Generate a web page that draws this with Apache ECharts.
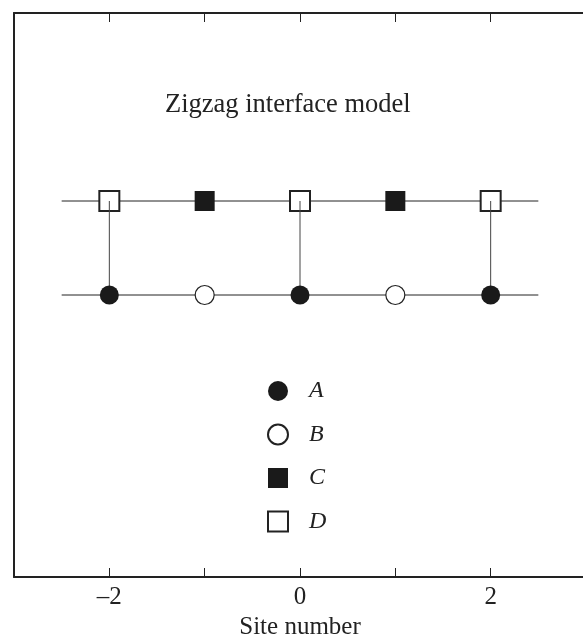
<!DOCTYPE html>
<html>
<head>
<meta charset="utf-8">
<script src="https://cdn.jsdelivr.net/npm/echarts@6/dist/echarts.min.js"></script>
<style>
  html, body { margin: 0; padding: 0; background: #fff; }
  #chart { width: 583px; height: 637px; }
</style>
</head>
<body>
<div id="chart"></div>
<script>
// site positions of each kind of atom
const sitesA = [-2, 0, 2];   // filled circles, lower chain
const sitesB = [-1, 1];      // open circles, lower chain
const sitesC = [-1, 1];      // filled squares, upper chain
const sitesD = [-2, 0, 2];   // open squares, upper chain
const bondSites = [-2, 0, 2];
const chainEnds = [-2.5, 2.5];
const upperRow = 4;
const lowerRow = 3;
const xTicks = [-2, 0, 2];

const font = "'Liberation Serif', 'Times New Roman', serif";
const ink = "#222";

let series = [
  {
    name: "upper", type: "line", z: 1, symbol: "none", silent: true,
    data: chainEnds.map(x => [x, upperRow]),
    lineStyle: { color: ink, width: 1 }
  },
  {
    name: "lower", type: "line", z: 1, symbol: "none", silent: true,
    data: chainEnds.map(x => [x, lowerRow]),
    lineStyle: { color: ink, width: 1 }
  },
  {
    name: "D", type: "scatter", z: 2, symbol: "rect", symbolSize: 20,
    data: sitesD.map(x => [x, upperRow]),
    itemStyle: { color: "#fff", borderColor: ink, borderWidth: 2, opacity: 1 }
  }
];

// vertical bonds between the two chains
bondSites.forEach(function (x) {
  series.push({
    type: "line", z: 3, symbol: "none", silent: true,
    data: [[x, upperRow], [x, lowerRow]],
    lineStyle: { color: "#444", width: 1 }
  });
});

series.push(
  {
    name: "A", type: "scatter", z: 4, symbol: "circle", symbolSize: 19,
    data: sitesA.map(x => [x, lowerRow]),
    itemStyle: { color: "#1a1a1a", opacity: 1 }
  },
  {
    name: "B", type: "scatter", z: 4, symbol: "circle", symbolSize: 19,
    data: sitesB.map(x => [x, lowerRow]),
    itemStyle: { color: "#fff", borderColor: ink, borderWidth: 1.2, opacity: 1 }
  },
  {
    name: "C", type: "scatter", z: 4, symbol: "rect", symbolSize: 20,
    data: sitesC.map(x => [x, upperRow]),
    itemStyle: { color: "#1a1a1a", opacity: 1 }
  }
);

const chart = echarts.init(document.getElementById("chart"));
chart.setOption({
  animation: false,
  backgroundColor: "#fff",
  title: {
    text: "Zigzag interface model",
    left: 165, top: 92, padding: 0,
    textStyle: { fontFamily: font, fontSize: 26.5, fontWeight: "normal", color: ink }
  },
  legend: {
    data: ["A", "B", "C", "D"],
    orient: "vertical",
    left: 262, top: 374,
    itemWidth: 20, itemHeight: 20, itemGap: 19.5,
    selectedMode: false,
    textStyle: {
      fontFamily: font, fontSize: 24, fontStyle: "italic", color: ink,
      lineHeight: 20, padding: [0, 0, 0, 16]
    }
  },
  grid: { left: 14, top: 13, width: 572, height: 564, outerBoundsMode: "none" },
  xAxis: [
    {
      type: "value", min: -3, max: 3, interval: 1, position: "bottom",
      name: "Site number", nameLocation: "middle", nameGap: 26,
      nameTextStyle: { fontFamily: font, fontSize: 25, color: ink },
      axisLine: { onZero: false, lineStyle: { color: ink, width: 2 } },
      axisTick: { inside: true, length: 9, lineStyle: { color: ink, width: 1 } },
      axisLabel: {
        margin: 8, fontFamily: font, fontSize: 25, color: ink,
        formatter: v => xTicks.includes(v) ? (v < 0 ? "\u2013" + Math.abs(v) : String(v)) : ""
      },
      splitLine: { show: false }
    },
    {
      type: "value", min: -3, max: 3, interval: 1, position: "top",
      axisLine: { onZero: false, lineStyle: { color: ink, width: 2 } },
      axisTick: { inside: true, length: 9, lineStyle: { color: ink, width: 1 } },
      axisLabel: { show: false },
      splitLine: { show: false }
    }
  ],
  yAxis: [
    {
      type: "value", min: 0, max: 6, position: "left",
      axisLine: { show: true, onZero: false, lineStyle: { color: ink, width: 2 } },
      axisTick: { show: false }, axisLabel: { show: false },
      splitLine: { show: false }
    },
    {
      type: "value", min: 0, max: 6, position: "right",
      axisLine: { show: true, onZero: false, lineStyle: { color: ink, width: 2 } },
      axisTick: { show: false }, axisLabel: { show: false },
      splitLine: { show: false }
    }
  ],
  series: series
});
</script>
</body>
</html>
